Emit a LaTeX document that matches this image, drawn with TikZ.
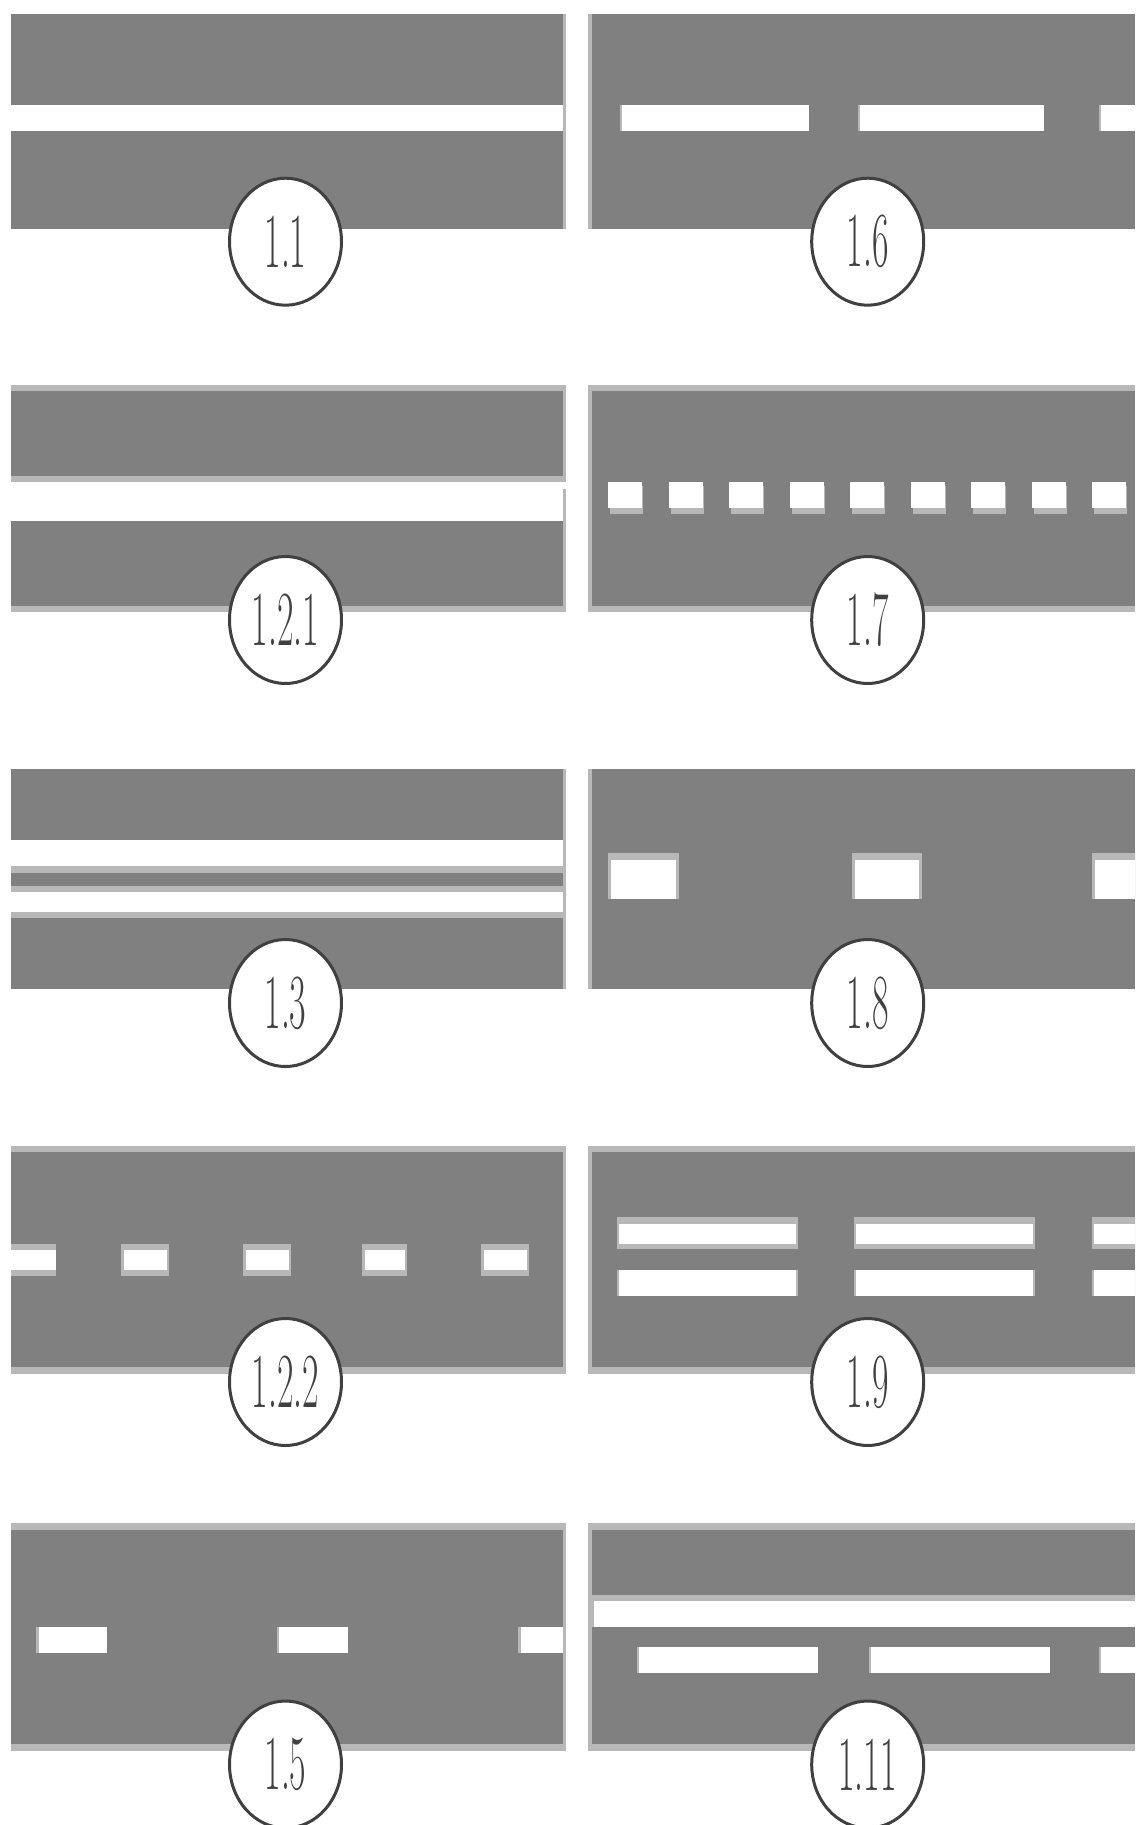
\documentclass[tikz,border=0pt]{standalone}
\usepackage{fontspec}
\setmainfont{Latin Modern Roman}
\usetikzlibrary{shapes.geometric}
\definecolor{road}{HTML}{808080}
\definecolor{edge}{HTML}{B8B8B8}
\definecolor{ink}{HTML}{404040}
\tikzset{
  asphalt/.style={fill=road},
  lite/.style={fill=edge},
  paint/.style={fill=white},
  lbl/.style={ellipse, draw=ink, line width=3pt, fill=white, minimum width=112pt,
    minimum height=127pt, inner sep=0pt, text=ink,
    font=\fontsize{78}{80}\selectfont},
}
\newcommand{\lab}[1]{\scalebox{0.46}[1]{#1}}
\begin{document}
\begin{tikzpicture}[x=1pt,y=-1pt]
\useasboundingbox (0,0) rectangle (1135,1825);
\clip (0,0) rectangle (1135,1825);
% ---------- Row 1 ----------
\fill[asphalt] (11,14) rectangle (563,229);
\fill[lite] (563,14) rectangle (566,229);
\fill[paint] (11,105) rectangle (563,131);
\fill[lite] (588,14) rectangle (591.5,229);
\fill[asphalt] (591.5,14) rectangle (1135,229);
\foreach \a/\b in {622/808.6, 860/1044, 1101/1135}{
  \fill[lite] (\a-2.5,105) rectangle (\a,131);
  \fill[paint] (\a,105) rectangle (\b,131);
}
% ---------- Row 2 ----------
\fill[lite] (11,385) rectangle (566,612);
\fill[asphalt] (11,391) rectangle (563,476);
\fill[paint] (11,482) rectangle (563,521);
\fill[paint] (563,482) rectangle (566,489);
\fill[asphalt] (11,521) rectangle (563,606);
\fill[lite] (588,385) rectangle (1135,612);
\fill[asphalt] (591.5,391) rectangle (1135,606);
\foreach \k in {0,...,8}{
  \pgfmathsetmacro{\xa}{608+60.5*\k}
  \fill[lite] (\xa+2,486) rectangle (\xa+35,514);
  \fill[paint] (\xa,482) rectangle (\xa+34,508);
}
% ---------- Row 3 ----------
\fill[asphalt] (11,769) rectangle (563,989);
\fill[lite] (563,769) rectangle (566,989);
\fill[paint] (11,840) rectangle (563,866);
\fill[lite] (11,866) rectangle (566,917.7);
\fill[asphalt] (11,872.7) rectangle (563,886);
\fill[paint] (11,892) rectangle (563,912.3);
\fill[lite] (588,769) rectangle (591.5,989);
\fill[asphalt] (591.5,769) rectangle (1135,989);
\foreach \a/\b in {607.7/679.2, 852.3/922, 1092/1138}{
  \fill[lite] (\a,853) rectangle (\b,899);
  \fill[paint] (\a+2.8,860) rectangle (\b-2.8,899);
}
% ---------- Row 4 ----------
\fill[lite] (11,1146) rectangle (566,1374);
\fill[asphalt] (11,1152) rectangle (563,1367);
\fill[lite] (11,1244) rectangle (56,1276);
\fill[paint] (11,1250) rectangle (56,1270);
\foreach \a/\b in {121/169, 243/291, 362/407, 481/529}{
  \fill[lite] (\a,1244) rectangle (\b,1276);
  \fill[paint] (\a+2.5,1250) rectangle (\b-2,1270);
}
\fill[lite] (588,1146) rectangle (1135,1374);
\fill[asphalt] (591.5,1152) rectangle (1135,1367);
\foreach \a/\b in {617/798, 854/1035, 1092/1138}{
  \fill[lite] (\a,1217) rectangle (\b,1249);
  \fill[paint] (\a+2,1224) rectangle (\b-2,1244);
  \fill[lite] (\a,1270) rectangle (\b,1296);
  \fill[paint] (\a+2,1270) rectangle (\b-2,1296);
}
% ---------- Row 5 ----------
\fill[lite] (11,1523) rectangle (566,1751);
\fill[asphalt] (11,1530) rectangle (563,1744);
\foreach \a/\b in {36.4/107.2, 276.7/347.5, 518/563}{
  \fill[lite] (\a,1627) rectangle (\a+2.5,1653);
  \fill[paint] (\a+2.5,1627) rectangle (\b,1653);
}
\fill[lite] (588,1523) rectangle (1135,1751);
\fill[asphalt] (591.5,1530) rectangle (1135,1744);
\fill[lite] (591.5,1595) rectangle (1135,1601);
\fill[lite] (591.5,1595) rectangle (594,1627);
\fill[paint] (594,1601) rectangle (1135,1627);
\foreach \a/\b in {639/818, 871/1049.5, 1101/1138}{
  \fill[lite] (\a-2.5,1647) rectangle (\a,1673);
  \fill[paint] (\a,1647) rectangle (\b,1673);
}
% ---------- Labels ----------
\node[lbl] (l11)  at (285.5,241.7)  {\lab{1.1}};
\node[lbl] (l121) at (285.5,620)    {\lab{1.2.1}};
\node[lbl] (l13)  at (285.5,1003)   {\lab{1.3}};
\node[lbl] (l122) at (285.5,1382)   {\lab{1.2.2}};
\node[lbl] (l15)  at (285.5,1764.5) {\lab{1.5}};
\node[lbl] (r16)  at (867.7,241.7)  {\lab{1.6}};
\node[lbl] (r17)  at (867.7,620)    {\lab{1.7}};
\node[lbl] (r18)  at (867.7,1003)   {\lab{1.8}};
\node[lbl] (r19)  at (867.7,1382)   {\lab{1.9}};
\node[lbl] (r111) at (867.7,1764.5) {\lab{1.11}};
\end{tikzpicture}
\end{document}
